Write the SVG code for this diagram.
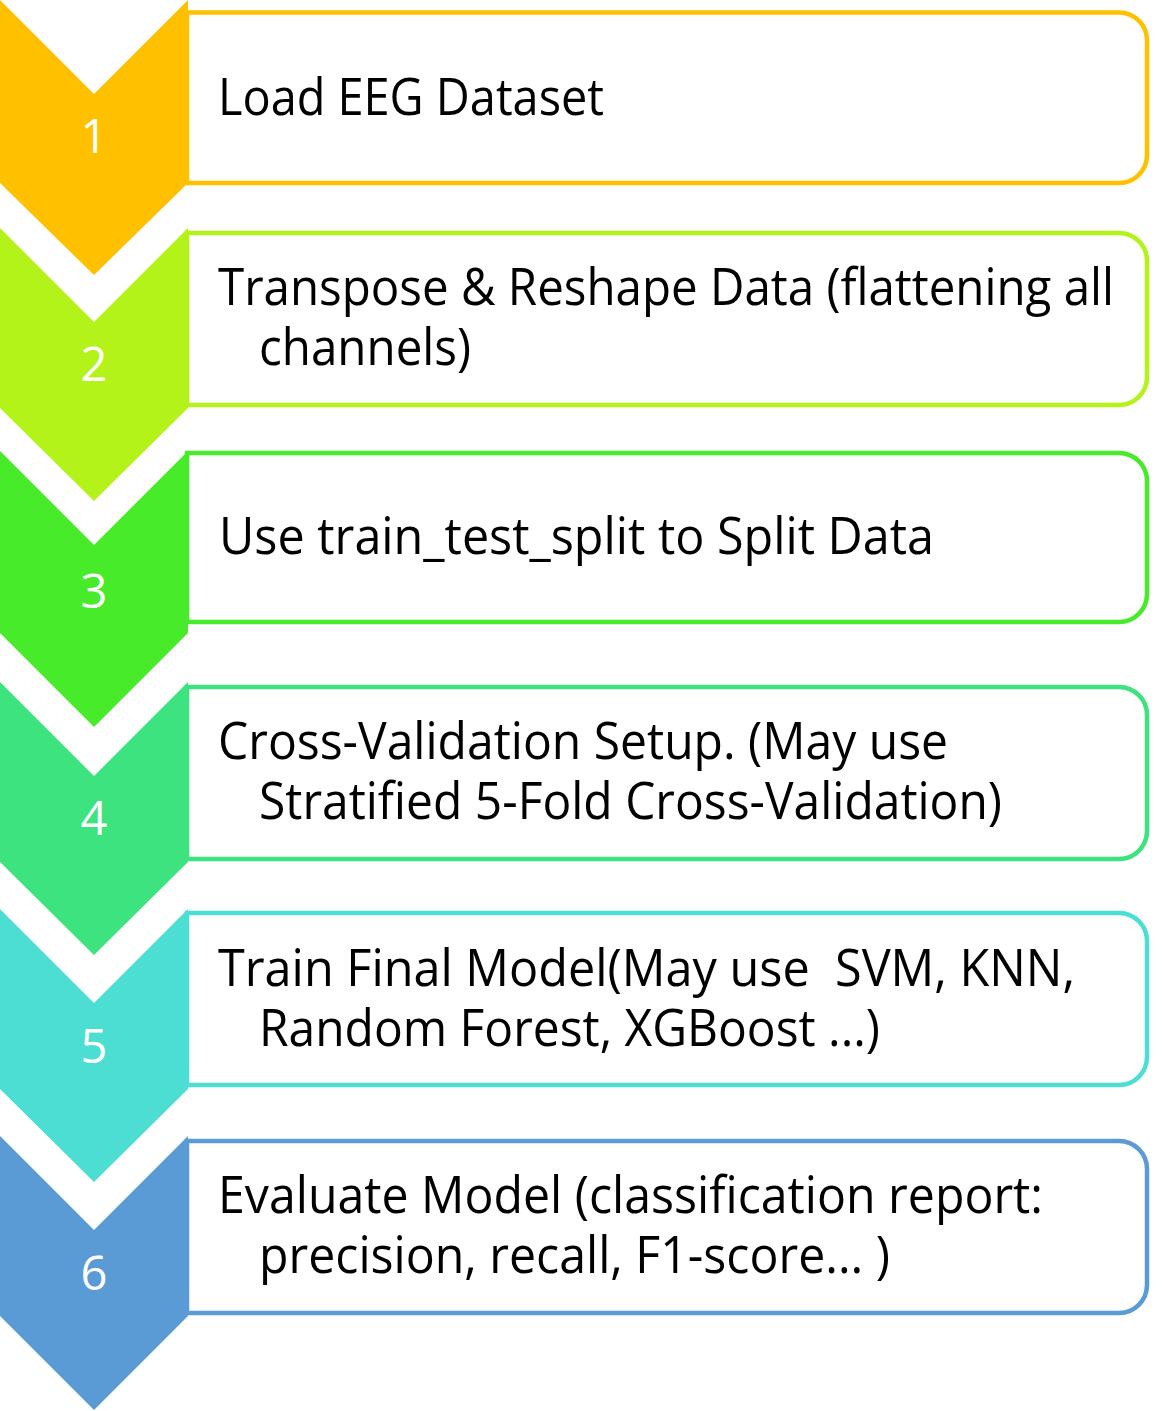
<svg xmlns="http://www.w3.org/2000/svg" width="1164" height="1411" viewBox="0 0 1164 1411">
  <style>
    .box { fill: #FFFFFF; stroke-width: 4.5; }
    .num { font-family: "Open Sans", "Noto Sans", "DejaVu Sans", sans-serif; font-size: 47px; fill: #FFFFFF; text-anchor: middle; }
    .lbl { font-family: "Open Sans", "Noto Sans", "DejaVu Sans", sans-serif; font-size: 52px; fill: #000000; }
  </style>

  <!-- step 1 -->
  <g id="step1">
    <path class="box" stroke="#FFC000" d="M187 12.5 H1119 A28 28 0 0 1 1147 40.5 V155 A28 28 0 0 1 1119 183 H187 Z"/>
    <polygon fill="#FFC000" points="0,0 94,94 188,0 188,183 94,275 0,183"/>
    <text class="num" x="94" y="153">1</text>
    <text class="lbl" x="218" y="115" textLength="386" lengthAdjust="spacingAndGlyphs">Load EEG Dataset</text>
  </g>

  <!-- step 2 -->
  <g id="step2">
    <path class="box" stroke="#B3F31A" d="M187 233 H1119 A28 28 0 0 1 1147 261 V377 A28 28 0 0 1 1119 405 H187 Z"/>
    <polygon fill="#B3F31A" points="0,228 94,322 188,228 188,408 94,501 0,408"/>
    <text class="num" x="94" y="381">2</text>
    <text class="lbl">
      <tspan x="218" y="305" textLength="896" lengthAdjust="spacingAndGlyphs">Transpose &amp; Reshape Data (flattening all</tspan>
      <tspan x="259" y="365" textLength="212" lengthAdjust="spacingAndGlyphs">channels)</tspan>
    </text>
  </g>

  <!-- step 3 -->
  <g id="step3">
    <path class="box" stroke="#48EB2A" d="M187 453 H1119 A28 28 0 0 1 1147 481 V594 A28 28 0 0 1 1119 622 H187 Z"/>
    <polygon fill="#48EB2A" points="0,451 94,545 188,451 188,633 94,727 0,633"/>
    <text class="num" x="94" y="608">3</text>
    <text class="lbl" x="219" y="554" textLength="715" lengthAdjust="spacingAndGlyphs">Use train_test_split to Split Data</text>
  </g>

  <!-- step 4 -->
  <g id="step4">
    <path class="box" stroke="#3DE37F" d="M187 687 H1119 A28 28 0 0 1 1147 715 V831 A28 28 0 0 1 1119 859 H187 Z"/>
    <polygon fill="#3DE37F" points="0,682 94,776 188,682 188,862 94,955 0,862"/>
    <text class="num" x="94" y="835">4</text>
    <text class="lbl">
      <tspan x="218" y="759" textLength="730" lengthAdjust="spacingAndGlyphs">Cross-Validation Setup. (May use</tspan>
      <tspan x="259" y="819" textLength="743" lengthAdjust="spacingAndGlyphs">Stratified 5-Fold Cross-Validation)</tspan>
    </text>
  </g>

  <!-- step 5 -->
  <g id="step5">
    <path class="box" stroke="#4DDED3" d="M187 913 H1119 A28 28 0 0 1 1147 941 V1057 A28 28 0 0 1 1119 1085 H187 Z"/>
    <polygon fill="#4DDED3" points="0,909 94,1003 188,909 188,1089 94,1182 0,1089"/>
    <text class="num" x="94" y="1063">5</text>
    <text class="lbl" xml:space="preserve"><tspan x="218" y="986" textLength="857" lengthAdjust="spacingAndGlyphs">Train Final Model(May use  SVM, KNN,</tspan><tspan x="259" y="1046" textLength="621" lengthAdjust="spacingAndGlyphs">Random Forest, XGBoost ...)</tspan></text>
  </g>

  <!-- step 6 -->
  <g id="step6">
    <path class="box" stroke="#5B9BD5" d="M187 1141 H1119 A28 28 0 0 1 1147 1169 V1285 A28 28 0 0 1 1119 1313 H187 Z"/>
    <polygon fill="#5B9BD5" points="0,1136 94,1230 188,1136 188,1316 94,1410 0,1316"/>
    <text class="num" x="94" y="1290">6</text>
    <text class="lbl">
      <tspan x="218" y="1213" textLength="825" lengthAdjust="spacingAndGlyphs">Evaluate Model (classification report:</tspan>
      <tspan x="259" y="1273" textLength="631" lengthAdjust="spacingAndGlyphs">precision, recall, F1-score... )</tspan>
    </text>
  </g>

  <!-- the list has no separate connectors; the chevrons carry the flow -->
  <g id="connectors"/>
</svg>
